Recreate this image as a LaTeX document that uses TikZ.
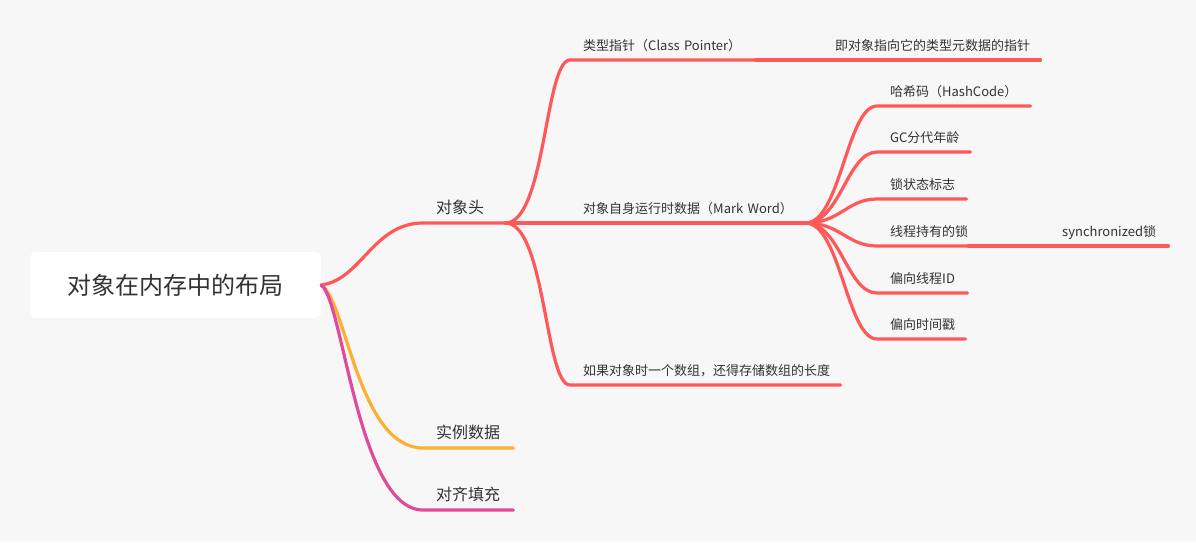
\documentclass[tikz,border=0pt]{standalone}
\usepackage{fontspec}
\setmainfont{Noto Sans CJK SC}
\usepackage{xcolor}
\definecolor{bgcol}{HTML}{F7F7F7}
\definecolor{txt}{HTML}{333333}
\definecolor{redln}{HTML}{FF5858}
\definecolor{orangeln}{HTML}{FBB032}
\definecolor{pinkln}{HTML}{DE4A9C}
\begin{document}
\begin{tikzpicture}[x=1pt,y=-1pt,
  box/.style={fill=white,rounded corners=6pt,minimum width=291pt,minimum height=66pt,font=\fontsize{24}{28}\selectfont,text=txt},
  topic/.style={anchor=south west,inner xsep=0pt,inner ysep=9pt,text depth=0pt,text width=#1,align=left,font=\fontsize{16}{18}\selectfont,text=txt},
  leaf/.style={topic=#1,font=\fontsize{13}{15}\selectfont},
  branch/.style={line width=3.2pt,line cap=round,draw=#1}]
    % background and margins
    \fill[bgcol] (0,0) rectangle (1196,542);

    % root and main topics
    \node[box] at (175.5,285) (root) {对象在内存中的布局};
    \node[topic=69pt] at (436,223) (header) {对象头};
    \node[topic=77pt] at (436,448) (instdata) {实例数据};
    \node[topic=77pt] at (436,510) (padding) {对齐填充};

    % object header
    \node[leaf=172pt] at (583,60) (klass) {类型指针（Class Pointer）};
    \node[leaf=205pt] at (835,60) (klassdesc) {即对象指向它的类型元数据的指针};
    \node[leaf=222pt] at (583,223) (markword) {对象自身运行时数据（Mark Word）};
    \node[leaf=257pt] at (583,385) (arraylen) {如果对象时一个数组，还得存储数组的长度};

    % mark word
    \node[leaf=140pt] at (890,106) (hashcode) {哈希码（HashCode）};
    \node[leaf=80pt] at (890,152) (gcage) {GC分代年龄};
    \node[leaf=76pt] at (890,199) (lockflag) {锁状态标志};
    \node[leaf=78pt] at (890,246) (lockowner) {线程持有的锁};
    \node[leaf=106pt] at (1062,246) (synclock) {synchronized锁};
    \node[leaf=77pt] at (890,293) (biasid) {偏向线程ID};
    \node[leaf=75pt] at (890,339) (biastime) {偏向时间戳};

    % connectors
    \draw[branch=redln] (root.east) .. controls +(40,-5) and +(-50,0) .. ([xshift=-13pt]header.south west) -- (header.south east);
    \draw[branch=orangeln] (root.east) .. controls +(25,15) and +(-65,0) .. ([xshift=-13pt]instdata.south west) -- (instdata.south east);
    \draw[branch=pinkln] (root.east) .. controls +(22,15) and +(-65,0) .. ([xshift=-13pt]padding.south west) -- (padding.south east);

    \draw[branch=redln] (header.south east) .. controls +(40,0) and +(-25,0) .. ([xshift=-13pt]klass.south west) -- (klass.south east);
    \draw[branch=redln] (header.south east) -- (markword.south east);
    \draw[branch=redln] (header.south east) .. controls +(40,0) and +(-25,0) .. ([xshift=-13pt]arraylen.south west) -- (arraylen.south east);
    \draw[branch=redln] (klass.south east) -- (klassdesc.south east);

    \foreach \leafname in {hashcode,gcage,lockflag,lockowner,biasid,biastime}
        \draw[branch=redln] (markword.south east) .. controls +(35,0) and +(-30,0) .. ([xshift=-13pt]\leafname.south west) -- (\leafname.south east);
    \draw[branch=redln] (lockowner.south east) -- (synclock.south east);
\end{tikzpicture}
\end{document}
